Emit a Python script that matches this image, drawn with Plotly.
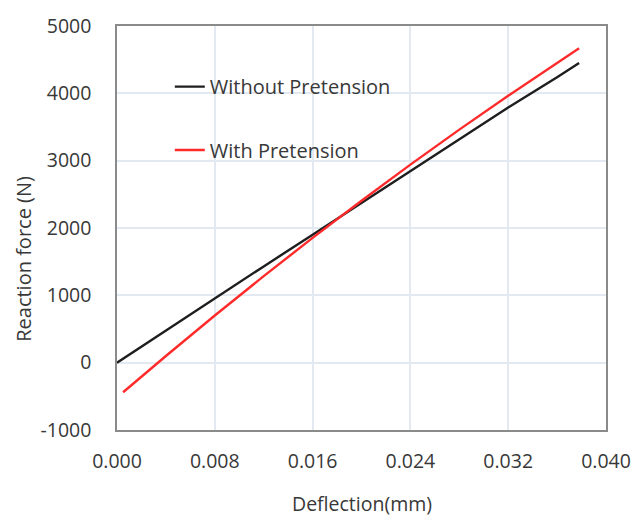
import plotly.graph_objects as go

# Data
defl_without = [0.0, 0.004, 0.008, 0.012, 0.016, 0.020, 0.024, 0.028, 0.032, 0.036, 0.0378]
force_without = [0, 480, 960, 1430, 1900, 2370, 2840, 3320, 3790, 4240, 4450]

defl_with = [0.0005, 0.004, 0.008, 0.012, 0.016, 0.020, 0.024, 0.028, 0.032, 0.036, 0.0378]
force_with = [-440, 99, 700, 1285, 1853, 2405, 2941, 3461, 3964, 4451, 4670]

x_ticks = [0.000, 0.008, 0.016, 0.024, 0.032, 0.040]
x_tick_labels = ["0.000", "0.008", "0.016", "0.024", "0.032", "0.040"]
y_ticks = [-1000, 0, 1000, 2000, 3000, 4000, 5000]
y_tick_labels = ["-1000", "0", "1000", "2000", "3000", "4000", "5000"]

FONT = "Open Sans"
TXT = "#383838"

fig = go.Figure()
fig.add_trace(go.Scatter(x=defl_without, y=force_without, mode="lines",
                         name="Without Pretension",
                         line=dict(color="#1e1e1e", width=2.4), legend="legend"))
fig.add_trace(go.Scatter(x=defl_with, y=force_with, mode="lines",
                         name="With Pretension",
                         line=dict(color="#ff2b2b", width=2.4), legend="legend2"))

legend_common = dict(font=dict(family=FONT, size=20, color=TXT),
                     bgcolor="rgba(0,0,0,0)", xanchor="left", yanchor="middle",
                     itemwidth=30)

fig.update_layout(
    width=643, height=519,
    margin=dict(l=117, r=27, t=20, b=89),
    paper_bgcolor="white", plot_bgcolor="white",
    font=dict(family=FONT, size=19, color=TXT),
    showlegend=True,
    legend=dict(x=0.108, y=0.850, **legend_common),
    legend2=dict(x=0.108, y=0.693, **legend_common),
    xaxis=dict(range=[0, 0.040], tickvals=x_ticks, ticktext=x_tick_labels,
               showgrid=True, gridcolor="#e3e9f0", gridwidth=1.5,
               showline=True, linecolor="#8a8a8a", linewidth=1.5, mirror=True,
               zeroline=False, ticks="", ticklabelstandoff=13,
               tickfont=dict(family=FONT, size=19.5, color=TXT)),
    yaxis=dict(range=[-1000, 5000], tickvals=y_ticks, ticktext=y_tick_labels,
               showgrid=True, gridcolor="#e3e9f0", gridwidth=1.5,
               showline=True, linecolor="#8a8a8a", linewidth=1.5, mirror=True,
               zeroline=False, ticks="", ticklabelstandoff=20,
               tickfont=dict(family=FONT, size=19.5, color=TXT)),
    annotations=[
        dict(text="Deflection(mm)", xref="paper", yref="paper", x=0.5, y=-0.183,
             xanchor="center", yanchor="middle", showarrow=False,
             font=dict(family=FONT, size=19.5, color=TXT)),
        dict(text="Reaction force (N)", xref="paper", yref="paper", x=-0.19, y=0.424,
             xanchor="center", yanchor="middle", showarrow=False, textangle=-90,
             font=dict(family=FONT, size=20, color=TXT)),
    ],
)

fig.write_html("out.html", config={"displayModeBar": False},
               post_script="document.body.style.margin='0px';document.body.style.overflow='hidden';")
